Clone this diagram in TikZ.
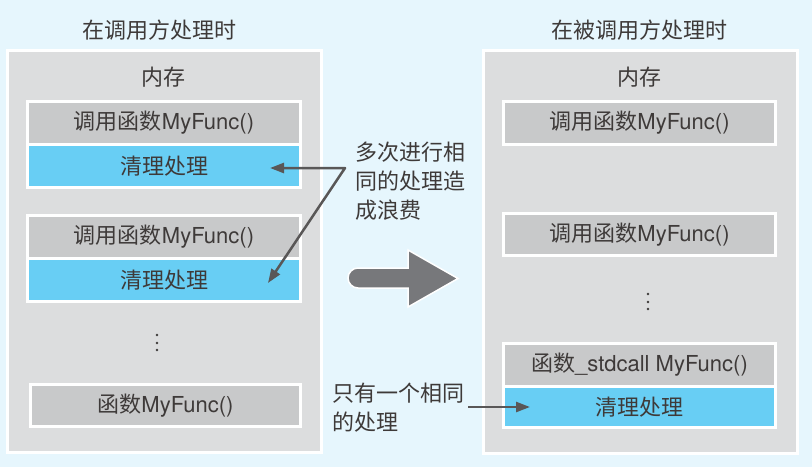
\documentclass[tikz,border=0pt]{standalone}
\usepackage{fontspec}
\setmainfont{Noto Sans CJK SC}
\newfontfamily\latf{TeX Gyre Heros}
\newcommand\lt[1]{{\latf #1}}
\usetikzlibrary{arrows.meta}
\definecolor{bgblue}{RGB}{230,246,253}
\definecolor{panelgray}{RGB}{220,221,222}
\definecolor{boxgray}{RGB}{200,201,202}
\definecolor{cellblue}{RGB}{104,206,244}
\definecolor{txt}{RGB}{62,58,57}
\definecolor{arrgray}{RGB}{119,120,123}
\definecolor{notegray}{RGB}{89,87,87}
\tikzset{
  panel/.style={draw=white, line width=2.5pt, fill=panelgray, inner sep=0},
  graybox/.style={draw=white, line width=3pt, fill=boxgray, minimum width=273pt,
    minimum height=43pt, inner sep=0, text=txt, font=\fontsize{22}{29}\selectfont},
  bluebox/.style={graybox, fill=cellblue},
  lbl/.style={inner sep=0, text=txt, font=\fontsize{22}{29}\selectfont},
  notearrow/.style={draw=notegray, line width=2.5pt, line join=round,
    arrows={-Triangle[length=14pt,width=10pt]}},
  dotmark/.style={fill=txt}
}
\begin{document}
\begin{tikzpicture}[x=1pt,y=-1pt]
\fill[bgblue] (0,0) rectangle (812,467);
\useasboundingbox (0,0) rectangle (812,467);
% panels
\node[panel, minimum width=314pt, minimum height=402pt] (lp) at (164.5,251.5) {};
\node[panel, minimum width=314pt, minimum height=403pt] (rp) at (640.5,252) {};
% titles
\node[lbl] (tl) at (159,30) {在调用方处理时};
\node[lbl] (tr) at (639,30) {在被调用方处理时};
\node[lbl] (ml) at (163,77) {内存};
\node[lbl] (mr) at (639,77) {内存};
% left boxes
\node[graybox] (lg1) at (164,123) {调用函数\lt{MyFunc()}};
\node[bluebox] (lb1) at (164,166) {清理处理};
\node[graybox] (lg2) at (164,237) {调用函数\lt{MyFunc()}};
\node[bluebox] (lb2) at (164,280) {清理处理};
\node[graybox, minimum width=270pt, minimum height=42pt] (lg3) at (165.5,405.5) {函数\lt{MyFunc()}};
\fill[dotmark] (157,335) circle (1.3);
\fill[dotmark] (157,343) circle (1.3);
\fill[dotmark] (157,350) circle (1.3);
% right boxes
\node[graybox, minimum width=272pt] (rg1) at (639.5,123) {调用函数\lt{MyFunc()}};
\node[graybox, minimum width=272pt, minimum height=42pt] (rg2) at (639.5,234.5) {调用函数\lt{MyFunc()}};
\node[graybox, minimum width=272pt, minimum height=42.5pt] (rg3) at (639.5,364.75) {函数\lt{\_stdcall MyFunc()}};
\node[bluebox, minimum width=272pt, minimum height=41.5pt] (rb3) at (639.5,406.75) {清理处理};
\fill[dotmark] (648,294) circle (1.3);
\fill[dotmark] (648,302) circle (1.3);
\fill[dotmark] (648,309) circle (1.3);
% big arrow
\draw[fill=arrgray, draw=white, line width=1.5pt, line join=miter]
  (358,268) -- (408,268) -- (408,250) -- (458,278.5) -- (408,307) -- (408,288) -- (358,288)
  arc (90:270:10) -- cycle;
% notes
\node[lbl, anchor=west, align=left] (n1) at (355,181) {多次进行相\\同的处理造\\成浪费};
\node[lbl, anchor=west, align=left] (n2) at (332,407.5) {只有一个相同\\的处理};
\coordinate (bend) at (345,168);
\coordinate (p1) at (270,168);
\coordinate (p2) at (268,283);
\coordinate (s2) at (468,407);
\coordinate (p3) at (530,407);
\draw[notearrow, {Triangle[length=14pt,width=10pt]}-{Triangle[length=14pt,width=10pt]}] (p1) -- (bend) -- (p2);
\draw[notearrow] (s2) -- (p3);
\end{tikzpicture}
\end{document}
